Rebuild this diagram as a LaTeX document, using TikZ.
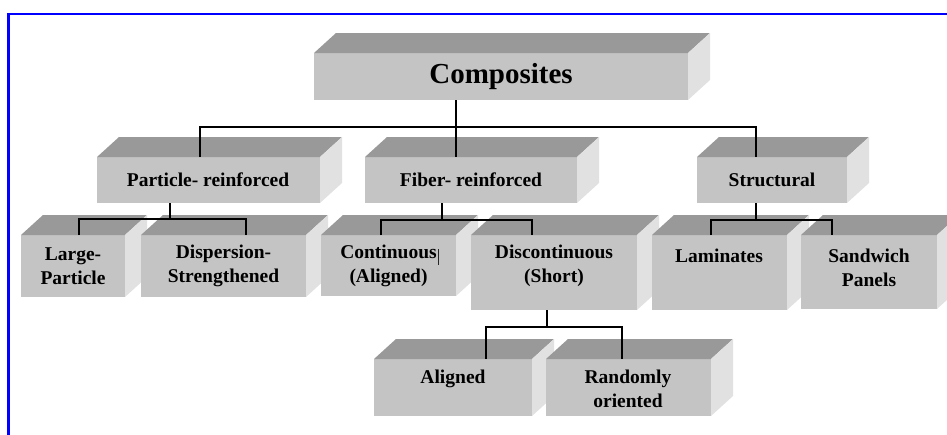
\documentclass[tikz,border=0pt]{standalone}
\usepackage{fontspec}
\setmainfont{Liberation Serif}
\definecolor{topc}{HTML}{999999}
\definecolor{frontc}{HTML}{C4C4C4}
\definecolor{sidec}{HTML}{E1E1E1}
\definecolor{framec}{HTML}{0000FF}
% name, x1, y1, x2, y2 (front face, pixel units, y downward)
\newcommand{\slab}[5]{%
  \node[frontface, anchor=north west, minimum width={#4pt-#2pt}, minimum height={#5pt-#3pt}] (#1) at (#2,#3) {};
  \fill[topc] (#2,#3) -- (#2+22,#3-20) -- (#4+22,#3-20) -- (#4,#3) -- cycle;
  \fill[sidec] (#4,#3) -- (#4+22,#3-20) -- (#4+22,#5-20) -- (#4,#5) -- cycle;
}
\begin{document}
\begin{tikzpicture}[x=1pt,y=-1pt,
  frontface/.style={fill=frontc, draw=none, inner sep=0pt, outer sep=0pt, rectangle},
  lbl/.style={font=\fontsize{19.5}{24}\selectfont\bfseries, align=center, inner sep=0pt},
  biglbl/.style={font=\fontsize{29}{34}\selectfont\bfseries, inner sep=0pt},
  conn/.style={draw=black, line width=1.3pt}]
\useasboundingbox (0,0) rectangle (947,434);
% frame
\draw[framec, line width=2.6pt] (8.5,440) -- (8.5,14) -- (950,14);
% boxes
\slab{comp}{314}{53}{688}{100}
\slab{part}{97}{157}{320}{203}
\slab{fib}{365}{157}{577}{203}
\slab{struct}{697}{157}{847}{203}
\slab{lp}{21}{235}{125}{297}
\slab{ds}{141}{235}{306}{297}
\slab{cont}{321}{235}{456}{296}
\slab{disc}{471}{235}{637}{310}
\slab{lam}{652}{235}{787}{310}
\slab{sand}{801}{235}{937}{309}
\slab{al}{374}{359}{532}{416}
\slab{ro}{546}{359}{711}{416}
% labels
\node[biglbl] (tcomp) at (501,77) {Composites};
\node[lbl] (tpart) at (208,180) {Particle- reinforced};
\node[lbl] (tfib) at (471,180) {Fiber- reinforced};
\node[lbl] (tstruct) at (772,180) {Structural};
\node[lbl] (tlp) at (73,266) {Large-\\Particle};
\node[lbl] (tds) at (223.5,266) {Dispersion-\\Strengthened};
\node[lbl] (tcont) at (388.5,266) {Continuous\\(Aligned)};
\node[lbl] (tdisc) at (554,266) {Discontinuous\\(Short)};
\node[lbl] (tlam) at (719,256) {Laminates};
\node[lbl] (tsand) at (869,268) {Sandwich\\Panels};
\node[lbl] (tal) at (453,379) {Aligned};
\node[lbl] (tro) at (628,389) {Randomly\\oriented};
% stray cursor bar after "Continuous"
\draw[line width=0.8pt, black!85] (438,249) -- (438,265);
% connectors
\coordinate (j0) at (456,127);
\coordinate (j0l) at (200,127);
\coordinate (j0r) at (756,127);
\draw[conn] (comp.south -| j0) -- (fib.north -| j0);
\draw[conn] (part.north -| j0l) -- (j0l) -- (j0r) -- (struct.north -| j0r);
\coordinate (j1) at (170,219);
\coordinate (j1l) at (79,219);
\coordinate (j1r) at (246,219);
\draw[conn] (part.south -| j1) -- (j1);
\draw[conn] (lp.north -| j1l) -- (j1l) -- (j1r) -- (ds.north -| j1r);
\coordinate (j2) at (442,220);
\coordinate (j2l) at (381,220);
\coordinate (j2r) at (532,220);
\draw[conn] (fib.south -| j2) -- (j2);
\draw[conn] (cont.north -| j2l) -- (j2l) -- (j2r) -- (disc.north -| j2r);
\coordinate (j3) at (756,220);
\coordinate (j3l) at (711,220);
\coordinate (j3r) at (832,220);
\draw[conn] (struct.south -| j3) -- (j3);
\draw[conn] (lam.north -| j3l) -- (j3l) -- (j3r) -- (sand.north -| j3r);
\coordinate (j4) at (547,327);
\coordinate (j4l) at (486,327);
\coordinate (j4r) at (622,327);
\draw[conn] (disc.south -| j4) -- (j4);
\draw[conn] (al.north -| j4l) -- (j4l) -- (j4r) -- (ro.north -| j4r);
\end{tikzpicture}
\end{document}
